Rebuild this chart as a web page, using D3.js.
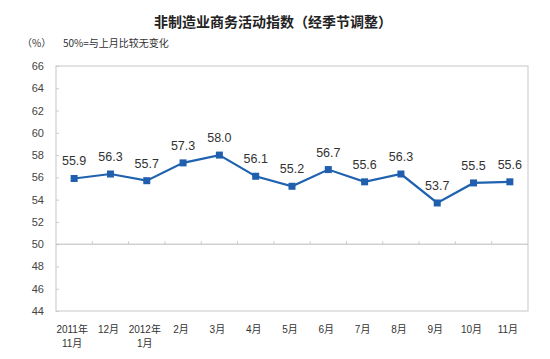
<!DOCTYPE html>
<html><head><meta charset="utf-8">
<script src="https://cdn.jsdelivr.net/npm/d3@7"></script>
<style>body{margin:0;background:#fff}svg{display:block}</style>
</head><body>
<script>
const categories = ["2011年\n11月","12月","2012年\n1月","2月","3月","4月","5月","6月","7月","8月","9月","10月","11月"];
const values = [55.9,56.3,55.7,57.3,58.0,56.1,55.2,56.7,55.6,56.3,53.7,55.5,55.6];
const yTicks = [44,46,48,50,52,54,56,58,60,62,64,66];
const title = "非制造业商务活动指数（经季节调整）";
const unitLabel = "（%）";
const note = "50%=与上月比较无变化";

const W=550,H=359;
const m={left:56,top:66,right:528,bottom:311};
const svg=d3.select("body").append("svg").attr("width",W).attr("height",H);
const font="'Liberation Sans','Noto Sans CJK SC',sans-serif";

const x=d3.scalePoint().domain(d3.range(categories.length)).range([m.left,m.right]).padding(0.5);
const y=d3.scaleLinear().domain([44,66]).range([m.bottom,m.top]);

svg.append("text").attr("x",273).attr("y",27).attr("text-anchor","middle")
  .attr("font-family","'Noto Sans CJK SC',sans-serif").attr("font-size",14).attr("font-weight","bold").attr("fill","#222").text(title);
svg.append("text").attr("x",22).attr("y",47).attr("font-family","'Noto Sans CJK SC',sans-serif").attr("font-size",10).attr("fill","#333").text(unitLabel);
svg.append("text").attr("x",63).attr("y",47).attr("font-family","'Noto Sans CJK SC',sans-serif").attr("font-size",10).attr("fill","#333").text(note);

// plot frame
svg.append("rect").attr("x",m.left).attr("y",m.top).attr("width",m.right-m.left).attr("height",m.bottom-m.top)
  .attr("fill","none").attr("stroke","#d0d0d0").attr("stroke-width",1.2);

// y axis
const yAxis=d3.axisLeft(y).tickValues(yTicks).tickSize(-3).tickPadding(12);
const ga=svg.append("g").attr("transform",`translate(${m.left},0)`).call(yAxis);
ga.select(".domain").remove();
ga.selectAll(".tick line").attr("stroke","#ccc");
ga.selectAll(".tick text").attr("font-family",font).attr("font-size",11).attr("fill","#444");

// 50 line
svg.append("line").attr("x1",m.left).attr("x2",m.right).attr("y1",y(50)).attr("y2",y(50)).attr("stroke","#bbb").attr("stroke-width",1);
const step=x.step();
svg.selectAll(".bt").data(d3.range(1,categories.length)).join("line")
  .attr("x1",d=>x(d)-step/2).attr("x2",d=>x(d)-step/2).attr("y1",y(50)-3).attr("y2",y(50)).attr("stroke","#ccc");

// x labels
const xl=svg.selectAll(".xl").data(categories).join("text").attr("font-family",font).attr("font-size",10).attr("fill","#333").attr("text-anchor","middle");
xl.each(function(d,i){
  const parts=d.split("\n");
  parts.forEach((p,j)=>d3.select(this).append("tspan").attr("x",x(i)-2).attr("y",333+j*14).text(p));
});

// line
const line=d3.line().x((d,i)=>x(i)).y(d=>y(d));
svg.append("path").datum(values).attr("d",line).attr("fill","none").attr("stroke","#1f62b0").attr("stroke-width",2.2);
svg.selectAll(".pt").data(values).join("rect").attr("x",(d,i)=>x(i)-3.5).attr("y",d=>y(d)-3.5).attr("width",7).attr("height",7).attr("fill","#1f5fae");
svg.selectAll(".vl").data(values).join("text").attr("x",(d,i)=>x(i)).attr("y",d=>y(d)-13)
  .attr("text-anchor","middle").attr("font-family",font).attr("font-size",12.5).attr("fill","#333").text(d=>d.toFixed(1));
</script>
</body></html>
